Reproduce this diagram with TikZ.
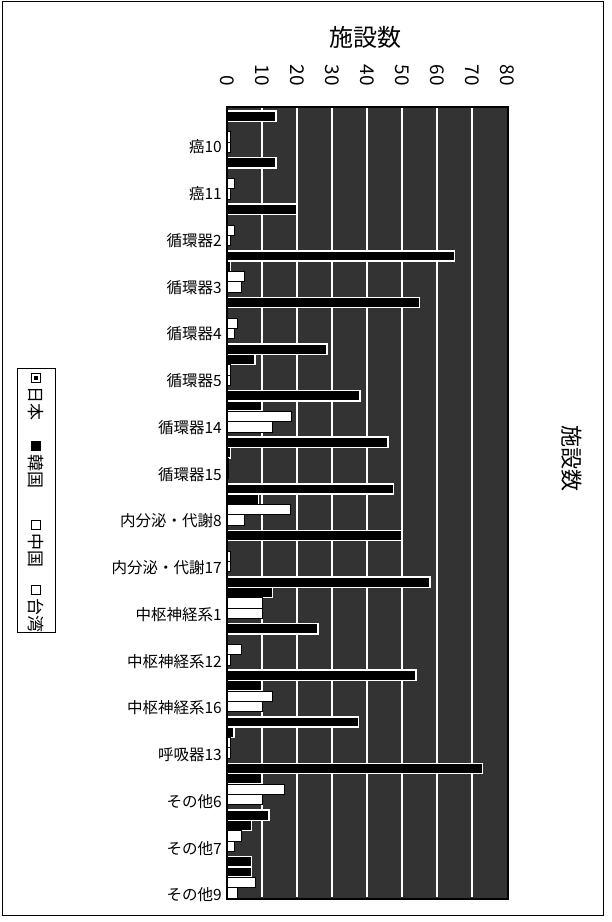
\documentclass[tikz,border=0pt]{standalone}
\usepackage{fontspec}
\setmainfont{Noto Sans CJK JP}
\usepackage{tikz}
\usetikzlibrary{positioning}
\definecolor{stipple}{gray}{0.2}

\begin{document}
\begin{tikzpicture}[
	x=1pt, y=-1pt,
	catLabel/.style={anchor=east, inner sep=0pt, font=\fontsize{15.5}{17}\selectfont},
	tickLabel/.style={rotate=-90, anchor=east, inner sep=0pt, font=\fontsize{19}{19}\selectfont},
	gridLine/.style={white, line width=1.8pt},
	barJapan/.style={fill=black, draw=white, line width=1.5pt},
	barKorea/.style={fill=black, draw=white, line width=1.5pt},
	barChina/.style={fill=white, draw=black, line width=0.6pt},
	barTaiwan/.style={fill=white, draw=black, line width=0.6pt},
	legendKey/.style={draw=black, line width=0.8pt, minimum size=9pt, inner sep=0pt},
	legendText/.style={rotate=-90, inner sep=0pt, font=\fontsize{17}{17}\selectfont}
]
\useasboundingbox (0,0) rectangle (612,922);
\draw[line width=1pt] (2,1) rectangle (603,915);

% plot area
\node[
	draw,
	fill=stipple,
	line width=1pt,
	inner sep=0pt,
	minimum width=280pt,
	minimum height=791pt,
	anchor=north west
] (plot) at (227,107) {};

\foreach \v in {10,20,...,70}
	\draw[gridLine] (227+3.5*\v,108) -- (227+3.5*\v,897);

% --- bars: Japan / Korea / China / Taiwan
\foreach \vJ/\vK/\vC/\vT [count=\i from 0] in {
	14/0/1/1, 14/0/2/1, 20/0/2/1, 65/1/5/4, 55/0/3/2, 28.5/8/1/1,
	38/10/18.5/13, 46/1/0.5/0.5, 47.5/9/18/5, 50/0/1/1, 58/13/10/10,
	26/0/4/1, 54/10/13/10, 37.5/2/1/1, 73/10/16.5/10, 12/7/4/2, 7/7/8/3}
{
	\pgfmathsetmacro{\barTop}{111+46.6*\i}
	\draw[barJapan] (227,\barTop) rectangle ++(3.5*\vJ,10.3);
	\draw[barKorea] (227,\barTop+10.3) rectangle ++(3.5*\vK,10.3);
	\draw[barChina] (227,\barTop+20.6) rectangle ++(3.5*\vC,10.3);
	\draw[barTaiwan] (227,\barTop+30.9) rectangle ++(3.5*\vT,10.3);
}
\draw[line width=1.2pt] (plot.north west) rectangle (plot.south east);

% --- axis
\node[font=\fontsize{24}{24}\selectfont] (title) at (365,37) {施設数};
\foreach \v in {0,10,...,80}
	\node[tickLabel] (tick\v) at (227+3.5*\v,86) {\v};

\node[rotate=-90, font=\fontsize{22}{22}\selectfont] (axisName) at (572,458) {施設数};

% --- categories
\node[catLabel] (cat0) at (222,147) {癌10};
\node[catLabel] (cat1) at (222,193.75) {癌11};
\node[catLabel] (cat2) at (222,240.5) {循環器2};
\node[catLabel] (cat3) at (222,287.25) {循環器3};
\node[catLabel] (cat4) at (222,334) {循環器4};
\node[catLabel] (cat5) at (222,380.75) {循環器5};
\node[catLabel] (cat6) at (222,427.5) {循環器14};
\node[catLabel] (cat7) at (222,474.25) {循環器15};
\node[catLabel] (cat8) at (222,521) {内分泌・代謝8};
\node[catLabel] (cat9) at (222,567.75) {内分泌・代謝17};
\node[catLabel] (cat10) at (222,614.5) {中枢神経系1};
\node[catLabel] (cat11) at (222,661.25) {中枢神経系12};
\node[catLabel] (cat12) at (222,708) {中枢神経系16};
\node[catLabel] (cat13) at (222,754.75) {呼吸器13};
\node[catLabel] (cat14) at (222,801.5) {その他6};
\node[catLabel] (cat15) at (222,848.25) {その他7};
\node[catLabel] (cat16) at (222,895) {その他9};

% --- legend
\draw[line width=1pt] (17,368) rectangle (55,632);

\node[legendKey, fill=white] (keyJapan) at (36,378) {};
\node[draw, fill=black, minimum size=3pt, inner sep=0pt] at (keyJapan) {};
\node[legendText, below=3pt of keyJapan, anchor=west] (txtJapan) {日本};

\node[legendKey, fill=black] (keyKorea) at (36,446) {};
\node[legendText, below=3pt of keyKorea, anchor=west] (txtKorea) {韓国};

\node[legendKey, fill=white] (keyChina) at (36,525) {};
\node[legendText, below=3pt of keyChina, anchor=west] (txtChina) {中国};

\node[legendKey, fill=white] (keyTaiwan) at (36,590) {};
\node[legendText, below=3pt of keyTaiwan, anchor=west] (txtTaiwan) {台湾};

\end{tikzpicture}
\end{document}
